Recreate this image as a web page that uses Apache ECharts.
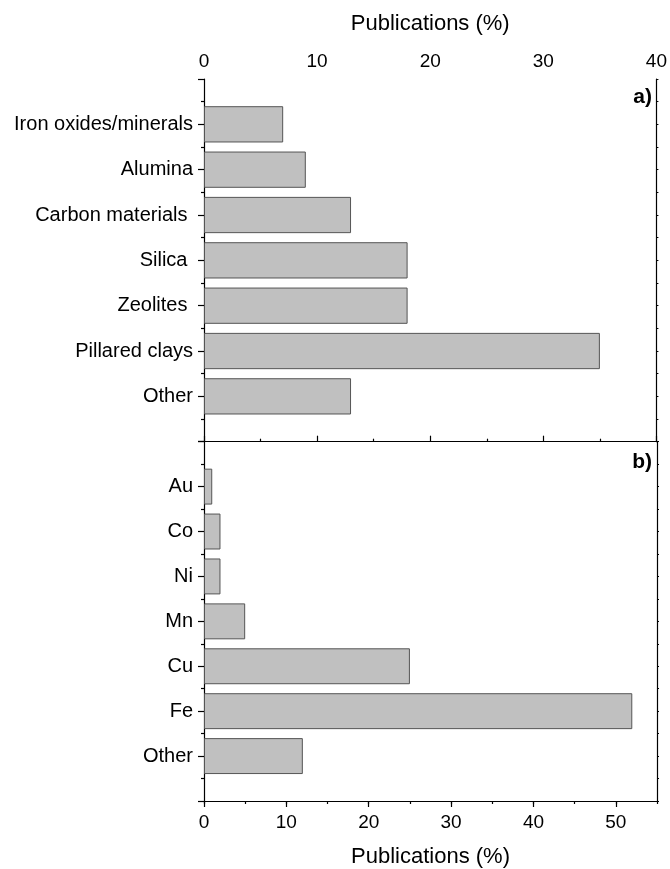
<!DOCTYPE html>
<html>
<head>
<meta charset="utf-8">
<script src="https://cdn.jsdelivr.net/npm/echarts@6/dist/echarts.min.js"></script>
<style>
html,body{margin:0;padding:0;background:#fff;}
#chart{width:670px;height:869px;}
</style>
</head>
<body>
<div id="chart"></div>
<script>
// Panel a) supports (top to bottom)
const categoriesA = ['Iron oxides/minerals', 'Alumina', 'Carbon materials ', 'Silica ', 'Zeolites ', 'Pillared clays', 'Other'];
const valuesA = [7, 9, 13, 18, 18, 35, 13];
// Panel b) metals (top to bottom)
const categoriesB = ['Au', 'Co', 'Ni', 'Mn', 'Cu', 'Fe', 'Other'];
const valuesB = [1, 2, 2, 5, 25, 52, 12];
const topTicks = [0, 10, 20, 30, 40];
const bottomTicks = [0, 10, 20, 30, 40, 50];
const axisTitle = 'Publications (%)';

const FONT = "'Liberation Sans', Arial, sans-serif";
const pad = arr => [''].concat(arr, ['']);
const padVals = arr => ['-'].concat(arr, ['-']);

const chart = echarts.init(document.getElementById('chart'));
const lineStyle = {color: '#000', width: 1.2};

function catAxis(grid, cats) {
  return {
    gridIndex: grid, type: 'category', data: pad(cats), inverse: true, boundaryGap: false,
    axisLine: {show: true, lineStyle: lineStyle},
    axisTick: {show: true, inside: false, length: 6, interval: 0, lineStyle: lineStyle},
    axisLabel: {show: true, interval: 0, fontSize: 20, color: '#000', fontFamily: FONT, margin: 11},
    splitLine: {show: false}
  };
}
function minorAxis(grid) {
  return {
    gridIndex: grid, type: 'value', position: 'left', min: 0, max: 8, interval: 1,
    axisLine: {show: false}, axisTick: {show: false}, axisLabel: {show: false},
    minorTick: {show: true, splitNumber: 2, length: 3, lineStyle: lineStyle},
    splitLine: {show: false}, minorSplitLine: {show: false}
  };
}
function rightAxis(grid) {
  return {
    gridIndex: grid, type: 'value', position: 'right', min: 0, max: 8, interval: 0.5,
    axisLine: {show: true, lineStyle: lineStyle},
    axisTick: {show: true, inside: false, length: 2, lineStyle: {color: '#000', width: 1}},
    axisLabel: {show: false}, splitLine: {show: false}
  };
}

const option = {
  animation: false,
  backgroundColor: '#fff',
  grid: [
    {left: 204, top: 79, width: 453, height: 362.7},
    {left: 204, top: 441.7, width: 453, height: 361}
  ],
  xAxis: [
    {
      gridIndex: 0, type: 'value', position: 'top',
      min: topTicks[0], max: topTicks[topTicks.length - 1], interval: topTicks[1] - topTicks[0],
      axisLine: {show: true, lineStyle: lineStyle},
      axisTick: {show: true, length: 6, lineStyle: lineStyle},
      minorTick: {show: true, splitNumber: 2, length: 3, lineStyle: lineStyle},
      axisLabel: {fontSize: 19, color: '#000', fontFamily: FONT, margin: 8},
      splitLine: {show: false}, minorSplitLine: {show: false},
      name: axisTitle, nameLocation: 'middle', nameGap: 44,
      nameTextStyle: {fontSize: 22, color: '#000', fontFamily: FONT}
    },
    {
      gridIndex: 0, type: 'value', position: 'bottom', min: 0, max: 40, interval: 5,
      axisLine: {show: true, lineStyle: lineStyle},
      axisTick: {show: true, inside: true, length: 2, lineStyle: {color: '#000', width: 1}},
      axisLabel: {show: false}, splitLine: {show: false}
    },
    {
      gridIndex: 1, type: 'value', position: 'bottom',
      min: bottomTicks[0], max: 55, interval: bottomTicks[1] - bottomTicks[0],
      axisLine: {show: true, lineStyle: lineStyle},
      axisTick: {show: true, length: 6, lineStyle: lineStyle},
      axisLabel: {fontSize: 19, color: '#000', fontFamily: FONT, margin: 12, showMaxLabel: false},
      splitLine: {show: false},
      name: axisTitle, nameLocation: 'middle', nameGap: 45,
      nameTextStyle: {fontSize: 22, color: '#000', fontFamily: FONT}
    },
    {
      gridIndex: 1, type: 'value', position: 'bottom', min: 0, max: 55, interval: 5,
      axisLine: {show: false},
      axisTick: {show: true, length: 3, lineStyle: lineStyle},
      axisLabel: {show: false}, splitLine: {show: false}
    }
  ],
  yAxis: [
    catAxis(0, categoriesA), minorAxis(0), rightAxis(0),
    catAxis(1, categoriesB), minorAxis(1), rightAxis(1)
  ],
  series: [
    {
      type: 'bar', xAxisIndex: 0, yAxisIndex: 0, data: padVals(valuesA), barWidth: '80%',
      itemStyle: {color: '#c0c0c0', borderColor: '#555', borderWidth: 1}
    },
    {
      type: 'bar', xAxisIndex: 2, yAxisIndex: 3, data: padVals(valuesB), barWidth: '80%',
      itemStyle: {color: '#c0c0c0', borderColor: '#555', borderWidth: 1}
    }
  ],
  graphic: [
    {type: 'text', right: 670 - 652, top: 87, style: {text: 'a)', font: "bold 21px 'Liberation Sans', Arial, sans-serif", fill: '#000'}},
    {type: 'text', right: 670 - 652, top: 452, style: {text: 'b)', font: "bold 21px 'Liberation Sans', Arial, sans-serif", fill: '#000'}}
  ]
};
chart.setOption(option);
</script>
</body>
</html>
